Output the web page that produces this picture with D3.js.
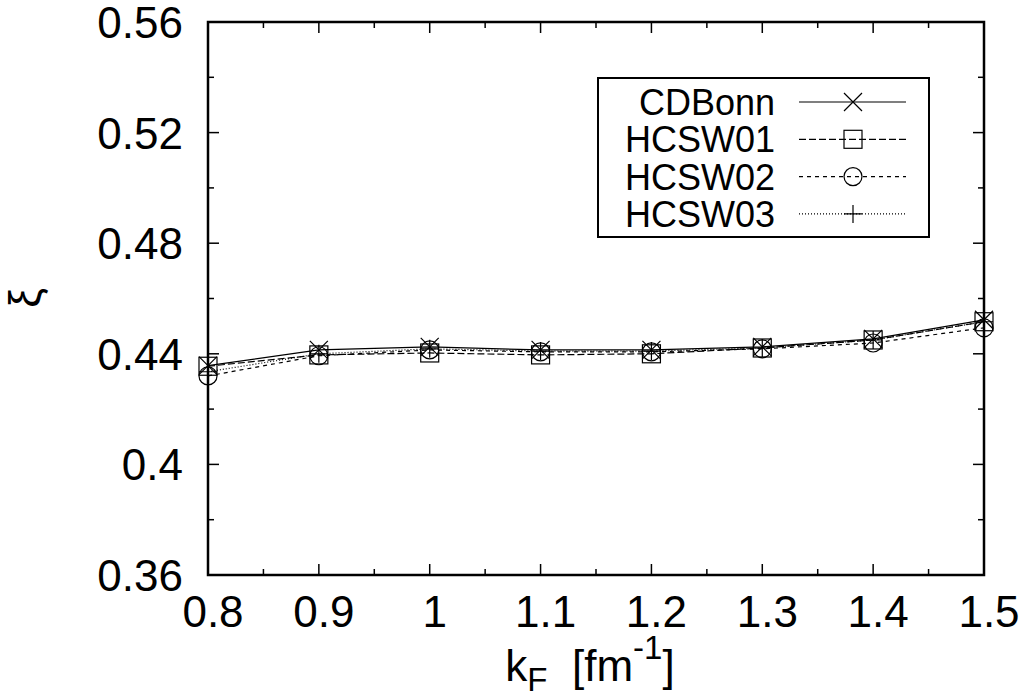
<!DOCTYPE html>
<html>
<head>
<meta charset="utf-8">
<script src="https://cdn.jsdelivr.net/npm/d3@7"></script>
<style>
  html, body { margin: 0; padding: 0; background: #fff; }
  svg { display: block; }
  text { font-family: "Liberation Sans", Arial, Helvetica, sans-serif; fill: #000; }
</style>
</head>
<body>
<svg id="chart" width="1029" height="696"></svg>
<script>
// Fermi momentum grid (fm^-1)
const kF = [0.8, 0.9, 1.0, 1.1, 1.2, 1.3, 1.4, 1.5];

// xi values for each potential
const cdBonn  = [0.4357, 0.4414, 0.4425, 0.4414, 0.4414, 0.4425, 0.4454, 0.4523];
const hcsw01  = [0.4355, 0.4396, 0.4403, 0.4396, 0.4400, 0.4421, 0.4450, 0.4516];
const hcsw02  = [0.4320, 0.4393, 0.4414, 0.4407, 0.4407, 0.4418, 0.4439, 0.4494];
const hcsw03  = [0.4335, 0.4400, 0.4418, 0.4410, 0.4410, 0.4421, 0.4450, 0.4516];

const seriesNames = ["CDBonn", "HCSW01", "HCSW02", "HCSW03"];

const xTickValues = [0.8, 0.9, 1.0, 1.1, 1.2, 1.3, 1.4, 1.5];
const xTickLabels = ["0.8", "0.9", "1", "1.1", "1.2", "1.3", "1.4", "1.5"];
const yTickValues = [0.36, 0.40, 0.44, 0.48, 0.52, 0.56];
const yTickLabels = ["0.36", "0.4", "0.44", "0.48", "0.52", "0.56"];

(function () {
const series = [
  { name: seriesNames[0], values: cdBonn, dash: null,  marker: "cross" },
  { name: seriesNames[1], values: hcsw01, dash: "7,3", marker: "square" },
  { name: seriesNames[2], values: hcsw02, dash: "4,4", marker: "circle" },
  { name: seriesNames[3], values: hcsw03, dash: "1,2", marker: "plus" }
];

const svg = d3.select("#chart");
const pL = 208, pR = 984, pT = 22, pB = 575;

const x = d3.scaleLinear().domain([0.8, 1.5]).range([pL, pR]);
const y = d3.scaleLinear().domain([0.36, 0.56]).range([pB, pT]);

// Inward major/minor ticks on all four sides
const tickG = svg.append("g").attr("stroke", "#000").attr("stroke-width", 1.5);
const xMinor = d3.range(0.85, 1.5, 0.1);
const yMinor = d3.range(0.38, 0.56, 0.04);
xTickValues.forEach(v => {
  tickG.append("line").attr("x1", x(v)).attr("x2", x(v)).attr("y1", pB).attr("y2", pB - 11);
  tickG.append("line").attr("x1", x(v)).attr("x2", x(v)).attr("y1", pT).attr("y2", pT + 11);
});
xMinor.forEach(v => {
  tickG.append("line").attr("x1", x(v)).attr("x2", x(v)).attr("y1", pB).attr("y2", pB - 6);
  tickG.append("line").attr("x1", x(v)).attr("x2", x(v)).attr("y1", pT).attr("y2", pT + 6);
});
yTickValues.forEach(v => {
  tickG.append("line").attr("y1", y(v)).attr("y2", y(v)).attr("x1", pL).attr("x2", pL + 11);
  tickG.append("line").attr("y1", y(v)).attr("y2", y(v)).attr("x1", pR).attr("x2", pR - 11);
});
yMinor.forEach(v => {
  tickG.append("line").attr("y1", y(v)).attr("y2", y(v)).attr("x1", pL).attr("x2", pL + 6);
  tickG.append("line").attr("y1", y(v)).attr("y2", y(v)).attr("x1", pR).attr("x2", pR - 6);
});

// Tick labels
svg.append("g").selectAll("text").data(xTickValues).join("text")
  .attr("x", d => x(d) + 5).attr("y", 627)
  .attr("text-anchor", "middle").attr("font-size", 44)
  .text((d, i) => xTickLabels[i]);

svg.append("g").selectAll("text").data(yTickValues).join("text")
  .attr("x", 183).attr("y", d => y(d) + 16)
  .attr("text-anchor", "end").attr("font-size", 44)
  .text((d, i) => yTickLabels[i]);

// Axis titles
const xl = svg.append("text").attr("x", 590).attr("y", 681)
  .attr("text-anchor", "middle").attr("font-size", 44);
xl.append("tspan").text("k");
xl.append("tspan").attr("font-size", 33).attr("dy", 10).text("F");
xl.append("tspan").attr("dy", -10).text("\u00a0 [fm");
xl.append("tspan").attr("font-size", 33).attr("dy", -22).text("-1");
xl.append("tspan").attr("dy", 22).text("]");

svg.append("text")
  .attr("transform", "translate(40,298) rotate(-90)")
  .attr("text-anchor", "middle").attr("font-size", 44)
  .attr("font-family", "DejaVu Serif, serif")
  .text("ξ");

// Marker drawing
function drawMarker(g, type, cx, cy) {
  const r = 9;
  if (type === "cross") {
    g.append("path").attr("d", `M${cx - r},${cy - r}L${cx + r},${cy + r}M${cx - r},${cy + r}L${cx + r},${cy - r}`);
  } else if (type === "square") {
    g.append("rect").attr("x", cx - r).attr("y", cy - r).attr("width", 2 * r).attr("height", 2 * r);
  } else if (type === "circle") {
    g.append("circle").attr("cx", cx).attr("cy", cy).attr("r", r);
  } else if (type === "plus") {
    g.append("path").attr("d", `M${cx - r},${cy}L${cx + r},${cy}M${cx},${cy - r}L${cx},${cy + r}`);
  }
}

const line = d3.line().x((d, i) => x(kF[i])).y(d => y(d));

const dataG = svg.append("g");
series.forEach(s => {
  dataG.append("path").datum(s.values)
    .attr("d", line).attr("fill", "none").attr("stroke", "#000")
    .attr("stroke-width", 1.2).attr("stroke-dasharray", s.dash);
  const mg = dataG.append("g").attr("fill", "none").attr("stroke", "#000").attr("stroke-width", 1.2);
  s.values.forEach((v, i) => drawMarker(mg, s.marker, x(kF[i]), y(v)));
});

// Frame
svg.append("rect").attr("x", pL).attr("y", pT)
  .attr("width", pR - pL).attr("height", pB - pT)
  .attr("fill", "none").attr("stroke", "#000").attr("stroke-width", 2.5);

// Legend
const legend = svg.append("g");
legend.append("rect").attr("x", 598).attr("y", 78).attr("width", 331).attr("height", 159)
  .attr("fill", "#fff").attr("stroke", "#000").attr("stroke-width", 2);
series.forEach((s, i) => {
  const cy = 102 + i * 37.3;
  legend.append("text").attr("x", 775).attr("y", cy + 13)
    .attr("text-anchor", "end").attr("font-size", 36).text(s.name);
  legend.append("line").attr("x1", 799).attr("x2", 906).attr("y1", cy).attr("y2", cy)
    .attr("stroke", "#000").attr("stroke-width", 1.2).attr("stroke-dasharray", s.dash);
  const mg = legend.append("g").attr("fill", "none").attr("stroke", "#000").attr("stroke-width", 1.2);
  drawMarker(mg, s.marker, 853, cy);
});
})();
</script>
</body>
</html>
